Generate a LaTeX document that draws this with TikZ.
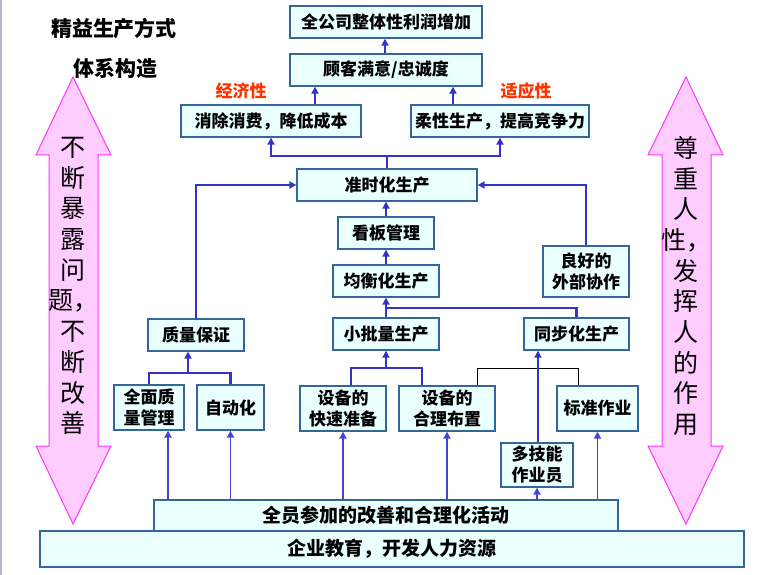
\documentclass[tikz,border=0pt]{standalone}
\usepackage{fontspec}
\setmainfont{Liberation Serif}
\newfontfamily\cjk{Noto Sans CJK SC}
\usetikzlibrary{arrows.meta}
\definecolor{boxc}{HTML}{336699}
\definecolor{boxf}{HTML}{EAFFFF}
\definecolor{linec}{HTML}{3333CC}
\definecolor{linet}{HTML}{4444DD}
\definecolor{pinkf}{HTML}{FFCCFF}
\definecolor{pinkd}{HTML}{FF33FF}
\definecolor{redt}{HTML}{FF3300}
\definecolor{edgeg}{HTML}{B4B8C4}
\begin{document}
\begin{tikzpicture}[x=1pt,y=-1pt,
  box/.style={draw=boxc, fill=boxf, line width=1.3pt, inner sep=0pt, align=center,
    font=\cjk\bfseries\fontsize{17}{21}\selectfont},
  conn/.style={draw=linec, line width=2.4pt},
  arr/.style={conn, -{Triangle[width=7pt,length=7pt]}},
  arrthin/.style={draw=linet, line width=1.8pt, -{Triangle[width=7pt,length=7pt]}},
  blk/.style={draw=black, line width=1pt},
  bigarrow/.style={draw=pinkd, fill=pinkf, line width=1pt},
  vtext/.style={font=\cjk\fontsize{25}{30.7}\selectfont, align=center, inner sep=0pt},
  redlabel/.style={text=redt, font=\cjk\bfseries\fontsize{17}{20}\selectfont, inner sep=0pt},
  titletext/.style={font=\cjk\bfseries\fontsize{21}{24}\selectfont, inner sep=0pt}
]
\useasboundingbox (0,0) rectangle (769,575);
\fill[edgeg] (0,0) rectangle (2,575);

% big arrows
\draw[bigarrow] (73,77) -- (111,155) -- (98,155) -- (98,446) -- (111,446) -- (73,524)
  -- (36,446) -- (49,446) -- (49,155) -- (36,155) -- cycle;
\draw[bigarrow] (686,77) -- (723,155) -- (711,155) -- (711,446) -- (723,446) -- (686,524)
  -- (648,446) -- (662,446) -- (662,155) -- (648,155) -- cycle;
\node[vtext] (lt) at (73,286) {不\\断\\暴\\露\\问\\题，\\不\\断\\改\\善};
\node[vtext] (rt) at (686,286) {尊\\重\\人\\性，\\发\\挥\\人\\的\\作\\用};

% titles
\node[titletext] (t1) at (114,29) {精益生产方式};
\node[titletext] (t2) at (115,68) {体系构造};
\node[redlabel] (r1) at (241,91) {经济性};
\node[redlabel] (r2) at (526,91) {适应性};

% boxes
\node[box, minimum width=192, minimum height=32] (top) at (386,22) {全公司整体性利润增加};
\node[box, minimum width=192, minimum height=32] (cust) at (386,70) {顾客满意/忠诚度};
\node[box, minimum width=180, minimum height=32] (cost) at (271,121) {消除消费，降低成本};
\node[box, minimum width=178, minimum height=32] (flex) at (500,121) {柔性生产，提高竞争力};
\node[box, minimum width=180, minimum height=32] (jit) at (387,185) {准时化生产};
\node[box, minimum width=96, minimum height=32] (kanban) at (386,233) {看板管理};
\node[box, minimum width=106, minimum height=32] (level) at (386,281) {均衡化生产};
\node[box, minimum width=106, minimum height=32] (small) at (386,334) {小批量生产};
\node[box, minimum width=105, minimum height=32] (sync) at (576.5,334) {同步化生产};
\node[box, minimum width=96, minimum height=32] (qa) at (196,335) {质量保证};
\node[box, minimum width=86, minimum height=51] (ext) at (586,271.5) {良好的\\外部协作};
\node[box, minimum width=70, minimum height=45] (tqm) at (149,407.5) {全面质\\量管理};
\node[box, minimum width=67, minimum height=45] (auto) at (230.5,407.5) {自动化};
\node[box, minimum width=86, minimum height=45] (setup) at (343,408.5) {设备的\\快速准备};
\node[box, minimum width=96, minimum height=45] (layout) at (447,408.5) {设备的\\合理布置};
\node[box, minimum width=81, minimum height=45] (std) at (597.5,408.5) {标准作业};
\node[box, minimum width=72, minimum height=44] (multi) at (537,465) {多技能\\作业员};
\node[box, minimum width=464, minimum height=31, font=\cjk\bfseries\fontsize{19}{22}\selectfont] (kaizen) at (386,515.5) {全员参加的改善和合理化活动};
\node[box, minimum width=704, minimum height=36, font=\cjk\bfseries\fontsize{19}{22}\selectfont] (edu) at (392,549) {企业教育，开发人力资源};

% top connectors
\draw[arr] (385,0 |- cust.north) -- (385,0 |- top.south);
\draw[arr] (315,0 |- cost.north) -- (315,0 |- cust.south);
\draw[arr] (453,0 |- flex.north) -- (453,0 |- cust.south);
\coordinate (jb) at (387,156);
\draw[conn] (jit.north) -- (jb);
\draw[arr] (jb) -| (cost.south);
\draw[arr] (jb) -| (flex.south);
\draw[arr] (qa.north) |- (jit.west);
\draw[arr] (ext.north) |- (jit.east);
\draw[arr] (kanban.north) -- (kanban.north |- jit.south);
\draw[arr] (level.north) -- (level.north |- kanban.south);
\coordinate (sj2) at (386,308);
\draw[conn] (sync.north) |- (sj2);
\draw[arr] (small.north) -- (small.north |- level.south);

% lower connectors
\coordinate (qj) at (188,373);
\draw[conn] (tqm.north) |- (qj) -| (auto.north);
\draw[arr] (qj) -- (qj |- qa.south);
\coordinate (sj) at (386,368);
\draw[conn] (351,0 |- setup.north) |- (sj) -| (422,0 |- layout.north);
\draw[arr] (sj) -- (sj |- small.south);
\coordinate (bj) at (578,368);
\draw[blk] (477,0 |- layout.north) |- (bj) -- (bj |- std.north);
\draw[arr] (538,0 |- multi.north) -- (538,0 |- sync.south);

% bottom arrows
\draw[arrthin] (168,0 |- kaizen.north) -- (168,0 |- tqm.south);
\draw[arrthin] (auto.south |- kaizen.north) -- (auto.south);
\draw[arrthin] (setup.south |- kaizen.north) -- (setup.south);
\draw[arrthin] (layout.south |- kaizen.north) -- (layout.south);
\draw[arrthin] (multi.south |- kaizen.north) -- (multi.south);
\draw[arrthin] (std.south |- kaizen.north) -- (std.south);
\end{tikzpicture}
\end{document}
